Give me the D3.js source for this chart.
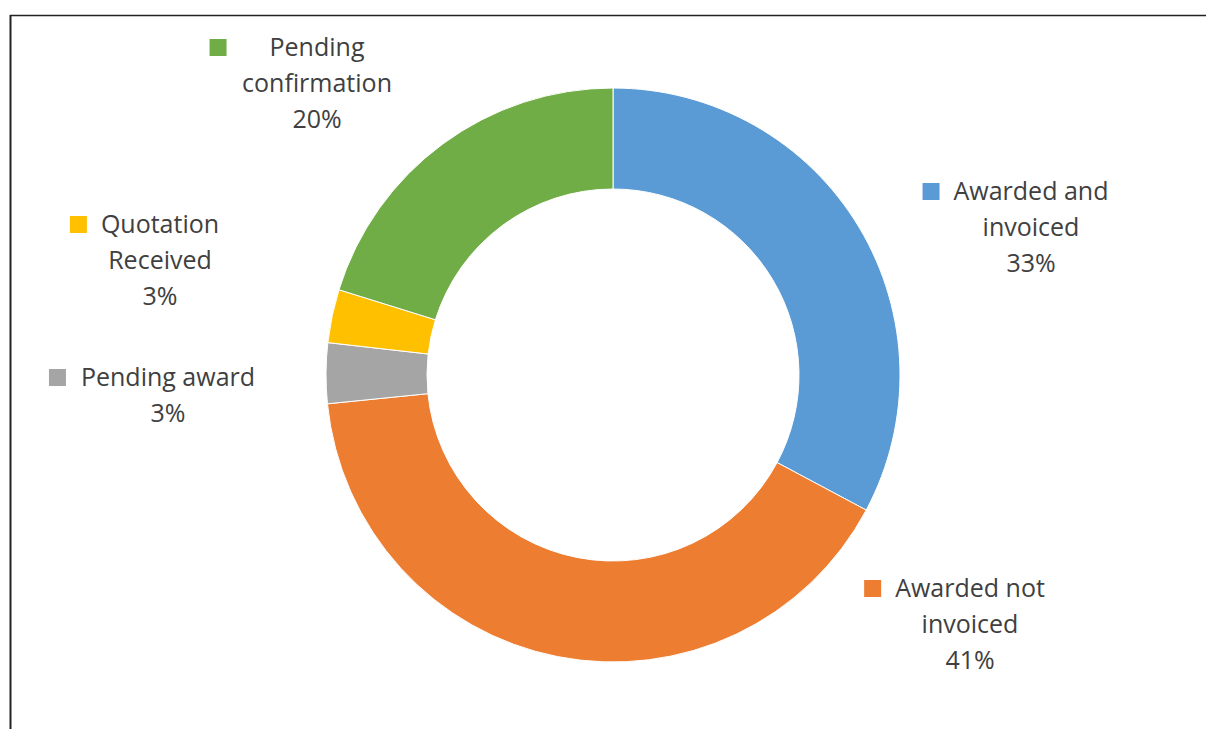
<!DOCTYPE html>
<html>
<head>
<meta charset="utf-8">
<script src="https://cdn.jsdelivr.net/npm/d3@7"></script>
<style>
  body { margin: 0; background: #fff; }
  svg { display: block; }
</style>
</head>
<body>
<svg id="canvas" width="1206" height="729"></svg>
<script>
const categories = ["Awarded and invoiced", "Awarded not invoiced", "Pending award", "Quotation Received", "Pending confirmation"]
const shares = [32.8, 40.6, 3.4, 3.0, 20.2]
const labelLines = [["Awarded and", "invoiced"], ["Awarded not", "invoiced"], ["Pending award"], ["Quotation", "Received"], ["Pending", "confirmation"]]
const colors = ["#5B9BD5", "#ED7D31", "#A5A5A5", "#FFC000", "#70AD47"]

// where each label block sits (centre x, baseline of first line) and gap between key and text
const labelPos = [[1031, 200], [970, 597], [168, 386], [160, 233], [317, 56]]
const keyGap = [14, 14, 15, 14, 43]

const canvas = d3.select('#canvas')

// frame lines (chart area cut off on the right and bottom)
canvas.append('line').attr('x1', 10).attr('x2', 1206).attr('y1', 15.5).attr('y2', 15.5)
    .attr('stroke', '#222').attr('stroke-width', 1.5)
canvas.append('line').attr('x1', 10.5).attr('x2', 10.5).attr('y1', 15).attr('y2', 729)
    .attr('stroke', '#222').attr('stroke-width', 2)

const cx = 613, cy = 375
const outerR = 287, innerR = 186

const pie = d3.pie().sort(null).value(d => d)
const arc = d3.arc().innerRadius(innerR).outerRadius(outerR)

const g = canvas.append('g').attr('transform', `translate(${cx},${cy})`)
g.selectAll('path')
    .data(pie(shares))
    .enter()
    .append('path')
    .attr('d', arc)
    .attr('fill', (d, i) => colors[i])
    .attr('stroke', '#fff')
    .attr('stroke-width', 1)

const total = d3.sum(shares)
const lineH = 36

categories.forEach((cat, i) => {
    const lines = labelLines[i].concat([Math.round(shares[i] / total * 100) + "%"])
    const lg = canvas.append('g')
        .attr('transform', `translate(${labelPos[i][0]},${labelPos[i][1]})`)
        .style('font-family', '"Open Sans", sans-serif')
        .style('font-size', '25px')
        .attr('fill', '#404040')
    lines.forEach((t, k) => {
        const txt = lg.append('text').text(t)
            .attr('text-anchor', 'middle')
            .attr('x', 0).attr('y', k * lineH)
        if (k == 0) {
            const w = txt.node().getComputedTextLength()
            lg.append('rect')
                .attr('x', -w / 2 - keyGap[i] - 17).attr('y', -17)
                .attr('width', 17).attr('height', 17)
                .attr('fill', colors[i])
        }
    })
})
</script>
</body>
</html>
